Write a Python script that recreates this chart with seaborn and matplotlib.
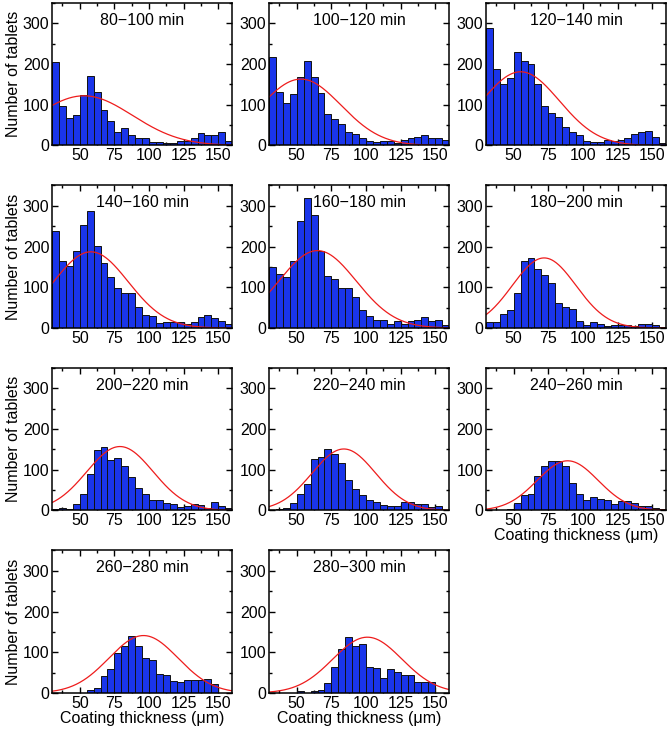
import numpy as np
import pandas as pd
import matplotlib
matplotlib.use("Agg")
import matplotlib.pyplot as plt
import seaborn as sns
from matplotlib.ticker import MultipleLocator

# bin edges: 30-160 um in 5 um steps
edges = np.arange(30, 161, 5)
centers = edges[:-1] + 2.5

titles = ["80\u2212100 min", "100\u2212120 min", "120\u2212140 min",
          "140\u2212160 min", "160\u2212180 min", "180\u2212200 min",
          "200\u2212220 min", "220\u2212240 min", "240\u2212260 min",
          "260\u2212280 min", "280\u2212300 min"]

c_80 = [205, 96, 68, 74, 123, 170, 131, 86, 61, 34, 43, 27, 19, 18, 8, 9, 7, 7, 10, 12, 18, 30, 25, 25, 34, 10]
c_100 = [218, 131, 105, 127, 168, 208, 168, 128, 78, 65, 52, 33, 29, 19, 10, 8, 10, 10, 6, 14, 18, 22, 27, 18, 18, 14]
c_120 = [289, 188, 151, 165, 229, 207, 200, 150, 96, 79, 70, 45, 34, 25, 11, 8, 8, 14, 12, 14, 18, 29, 33, 35, 22, 6]
c_140 = [239, 165, 153, 190, 253, 286, 202, 159, 124, 98, 87, 87, 51, 33, 29, 12, 14, 14, 14, 11, 14, 26, 33, 24, 16, 10]
c_160 = [150, 133, 126, 165, 263, 320, 278, 190, 128, 120, 98, 98, 77, 43, 29, 20, 20, 11, 16, 11, 16, 20, 26, 16, 20, 8]
c_180 = [14, 14, 34, 44, 87, 164, 172, 146, 131, 110, 61, 52, 47, 18, 8, 14, 10, 6, 8, 8, 8, 6, 10, 10, 8, 2]
c_200 = [4, 7, 4, 16, 40, 89, 149, 157, 123, 128, 108, 81, 56, 40, 26, 26, 18, 16, 8, 12, 16, 14, 6, 20, 10, 6]
c_220 = [2, 3, 6, 18, 41, 65, 126, 132, 152, 139, 116, 75, 52, 38, 26, 20, 14, 12, 12, 20, 22, 16, 16, 8, 10, 2]
c_240 = [0, 0, 2, 3, 18, 38, 41, 85, 108, 122, 122, 108, 67, 41, 26, 33, 28, 26, 16, 24, 24, 18, 11, 10, 6, 3]
c_260 = [0, 0, 0, 0, 1, 8, 12, 41, 59, 98, 116, 141, 116, 86, 80, 47, 45, 29, 27, 33, 31, 31, 34, 22, 0, 0]
c_280 = [0, 0, 1, 0, 4, 1, 6, 7, 24, 65, 107, 138, 115, 120, 63, 61, 36, 59, 51, 45, 43, 28, 26, 27, 0, 0]
counts = [c_80, c_100, c_120, c_140, c_160, c_180, c_200, c_220, c_240, c_260, c_280]

# Gaussian fit parameters
fit_mu = [53, 53, 55, 58, 65, 72, 79, 84, 89, 96, 101]
fit_sigma = [35, 29, 28, 27, 28, 23, 24, 23, 22, 25, 25]
fit_amp = [122, 163, 181, 187, 190, 172, 157, 151, 122, 141, 137]

sns.set_style("ticks")
plt.rcParams["font.family"] = ["Liberation Sans", "DejaVu Sans"]
plt.rcParams["text.color"] = "black"
plt.rcParams["axes.labelcolor"] = "black"

fs = 11.5
fig, axes = plt.subplots(4, 3, figsize=(6.68, 7.31), dpi=100)
plt.subplots_adjust(left=0.078, right=0.997, top=0.996, bottom=0.052,
                    wspace=0.205, hspace=0.28)

xs = np.linspace(30, 160, 300)
for i, ax in enumerate(axes.flat):
    if i >= len(counts):
        ax.axis("off")
        continue
    df = pd.DataFrame({"thickness": centers, "n": counts[i]})
    sns.histplot(data=df, x="thickness", weights="n", binwidth=5,
                 binrange=(30, 160), ax=ax, color="#1a35ea", alpha=1,
                 edgecolor="#111111", linewidth=0.7)
    fit = fit_amp[i] * np.exp(-(xs - fit_mu[i]) ** 2 / (2 * fit_sigma[i] ** 2))
    ax.plot(xs, fit, color="#ee1c1c", lw=0.9)

    ax.set_xlim(30, 160)
    ax.set_ylim(0, 350)
    ax.set_xticks([50, 75, 100, 125, 150])
    ax.set_yticks([0, 100, 200, 300])
    ax.xaxis.set_minor_locator(MultipleLocator(12.5))
    ax.yaxis.set_minor_locator(MultipleLocator(50))
    ax.tick_params(which="both", direction="in", top=True, right=True,
                   labelsize=fs, width=1, pad=2, colors="black")
    ax.tick_params(which="major", length=4.5)
    ax.tick_params(which="minor", length=2.5)
    for s in ax.spines.values():
        s.set_linewidth(1.1)
        s.set_color("black")
    ax.text(0.5, 0.93, titles[i], transform=ax.transAxes, ha="center",
            va="top", fontsize=fs, color="black")

    ax.set_ylabel("Number of tablets" if i % 3 == 0 else "", fontsize=fs,
                  labelpad=1, color="black")
    ax.set_xlabel("Coating thickness (\u03bcm)" if i >= 8 else "",
                  fontsize=fs, labelpad=0, color="black")

fig.savefig("out.png", dpi=100)
